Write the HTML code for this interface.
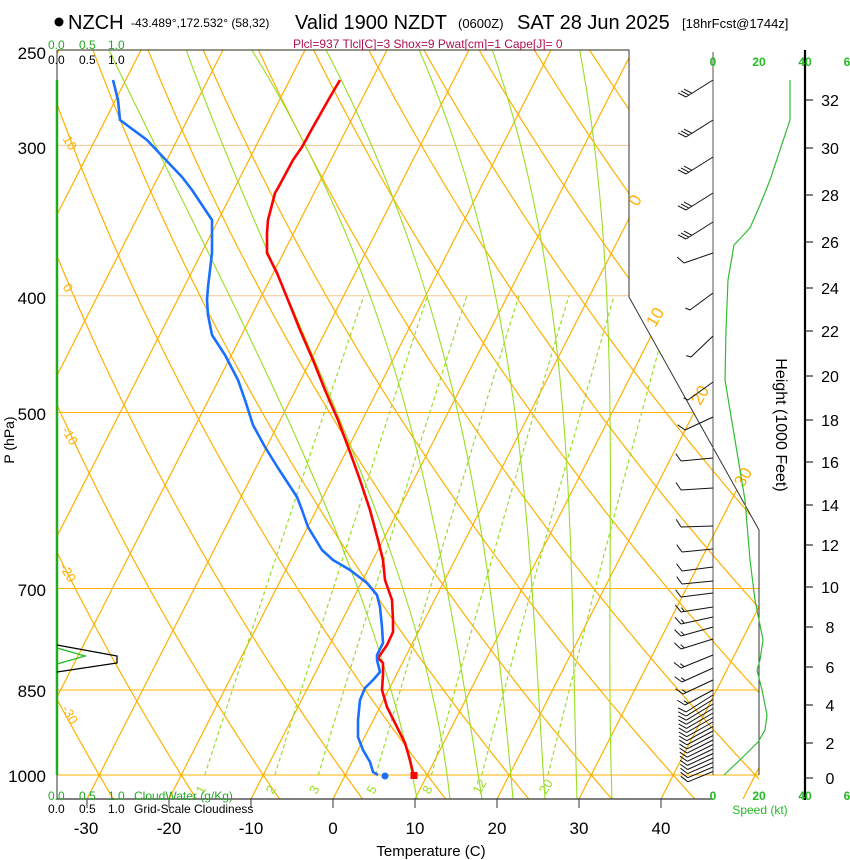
<!DOCTYPE html>
<html><head><meta charset="utf-8"><style>
html,body{margin:0;padding:0;background:#fff;}
svg{display:block;font-family:"Liberation Sans",Arial,sans-serif;}
</style></head><body>
<svg id="s" width="850" height="860" viewBox="0 0 850 860" xmlns="http://www.w3.org/2000/svg">
<defs><clipPath id="cp"><polygon points="57,50 629,50 629,297 759,530 759,799 57,799"/></clipPath></defs>
<rect width="850" height="860" fill="#fff"/>
<g id="grid" clip-path="url(#cp)"></g>
<g id="fg"></g>
<circle cx="59" cy="22" r="4.5" fill="#000"/>
<text x="68" y="29" font-size="20">NZCH</text>
<text x="131" y="27" font-size="12">-43.489°,172.532° (58,32)</text>
<text x="295" y="29" font-size="20">Valid 1900 NZDT</text>
<text x="458" y="28" font-size="13">(0600Z)</text>
<text x="517" y="29" font-size="20">SAT 28 Jun 2025</text>
<text x="682" y="28" font-size="13">[18hrFcst@1744z]</text>
<text x="293" y="48" font-size="12" fill="#b01050">Plcl=937 Tlcl[C]=3 Shox=9 Pwat[cm]=1 Cape[J]= 0</text>
<g font-size="12" fill="#22aa22"><text x="48" y="49">0.0</text><text x="79" y="49">0.5</text><text x="108" y="49">1.0</text>
<text x="48" y="800">0.0</text><text x="79" y="800">0.5</text><text x="108" y="800">1.0</text><text x="134" y="800">CloudWater (g/Kg)</text></g>
<g font-size="12" fill="#000"><text x="48" y="64">0.0</text><text x="79" y="64">0.5</text><text x="108" y="64">1.0</text>
<text x="48" y="813">0.0</text><text x="79" y="813">0.5</text><text x="108" y="813">1.0</text><text x="134" y="813">Grid-Scale Cloudiness</text></g>
<g font-size="17" text-anchor="end"><text x="46" y="59">250</text><text x="46" y="154">300</text><text x="46" y="304">400</text><text x="46" y="420">500</text><text x="46" y="596">700</text><text x="46" y="697">850</text><text x="46" y="782">1000</text></g>
<text transform="translate(14,440) rotate(-90)" font-size="14" text-anchor="middle">P (hPa)</text>
<g font-size="17" text-anchor="middle"><text x="86" y="834">-30</text><text x="169" y="834">-20</text><text x="251" y="834">-10</text><text x="333" y="834">0</text><text x="415" y="834">10</text><text x="497" y="834">20</text><text x="579" y="834">30</text><text x="661" y="834">40</text></g>
<text x="431" y="856" font-size="15" text-anchor="middle">Temperature (C)</text>
<g font-size="12" font-weight="bold" fill="#22bb22" text-anchor="middle"><text x="713" y="66">0</text><text x="759" y="66">20</text><text x="805" y="66">40</text><text x="847" y="66">6</text>
<text x="713" y="800">0</text><text x="759" y="800">20</text><text x="805" y="800">40</text><text x="847" y="800">6</text></g>
<text x="760" y="814" font-size="12" fill="#22bb22" text-anchor="middle">Speed (kt)</text>
<text transform="translate(776,425) rotate(90)" font-size="16" text-anchor="middle">Height (1000 Feet)</text>
<script>
(function(){
var NS="http://www.w3.org/2000/svg";
var grid=document.getElementById('grid'),fg=document.getElementById('fg');
function X(T,y){return 333+8.2*T+0.51*(799-y);}
function Y(p){return 775-523*Math.log(1000/p);}
function el(par,tag,attrs,txt){var e=document.createElementNS(NS,tag);for(var k in attrs)e.setAttribute(k,attrs[k]);if(txt!==undefined)e.textContent=txt;par.appendChild(e);return e;}
function pl(par,pts,attrs){attrs.points=pts.map(function(p){return p[0].toFixed(1)+","+p[1].toFixed(1);}).join(" ");attrs.fill="none";return el(par,'polyline',attrs);}
var OR="#ffb000";
[1000,850,700,500].forEach(function(p){el(grid,'line',{x1:57,x2:760,y1:Y(p),y2:Y(p),stroke:OR,'stroke-width':1});});
[400,300].forEach(function(p){el(grid,'line',{x1:57,x2:760,y1:Y(p),y2:Y(p),stroke:"#f5c890",'stroke-width':1});});
for(var T=-110;T<=60;T+=10){el(grid,'line',{x1:X(T,799),y1:799,x2:X(T,50),y2:50,stroke:OR,'stroke-width':1.2});}
for(var th=-40;th<=200;th+=10){var pts=[];for(var p=1060;p>=245;p-=5){var y=Y(p);var t=(th+273.15)*Math.pow(p/1000,0.2857)-273.15;pts.push([X(t,y),y]);}pl(grid,pts,{stroke:OR,'stroke-width':1.2});}
var GR="#99dd22";
// empirical moist adiabats: x at y=52,413,589,799
var ys=[52,413,589,799];
var M=[[110,285,358,417],[187,337,403,450],[253,407,447,482],[327,458,490,513],[420,515,532,545],[493,563,572,577],[580,610,610,612]];
function lag(xs,y){var s=0;for(var i=0;i<4;i++){var t=xs[i];for(var j=0;j<4;j++)if(j!=i)t*=(y-ys[j])/(ys[i]-ys[j]);s+=t;}return s;}
M.forEach(function(xs){var pts=[];for(var y=50;y<=800;y+=6){pts.push([lag(xs,y),y]);}pl(grid,pts,{stroke:GR,'stroke-width':1.1});});
var ws=[1,2,3,5,8,12,20];
ws.forEach(function(w){var pts=[];for(var p=1000;p>=400;p-=10){var e=w*p/(622+w);var l=Math.log(e/6.112);var td=243.5*l/(17.67-l);var y=Y(p);pts.push([X(td,y),y]);}
  pl(grid,pts,{stroke:GR,'stroke-width':1.2,'stroke-dasharray':'4,3'});
  var x0=pts[0][0];el(fg,'text',{x:0,y:0,'font-size':13,fill:GR,transform:'translate('+(x0-2)+',795) rotate(-60)'},String(w));
});
el(fg,'polyline',{points:"57,50 629,50 629,297 759,530 759,775",fill:"none",stroke:"#333",'stroke-width':1});
el(fg,'line',{x1:57,y1:50,x2:629,y2:50,stroke:"#554",'stroke-width':1.3});
el(fg,'line',{x1:57,y1:799,x2:713,y2:799,stroke:"#333",'stroke-width':1.2});
for(var T=-30;T<=40;T+=10){el(fg,'line',{x1:333+8.2*T,x2:333+8.2*T,y1:799,y2:808,stroke:"#333",'stroke-width':1});}
el(fg,'line',{x1:57,y1:50,x2:57,y2:799,stroke:"#333",'stroke-width':1});
el(fg,'line',{x1:57,y1:80,x2:57,y2:775,stroke:"#22aa22",'stroke-width':2.5});
[[0,640,203],[10,660,320],[20,705,398],[30,748,480]].forEach(function(a){el(fg,'text',{x:0,y:0,'font-size':17,fill:OR,'text-anchor':'middle',transform:'translate('+a[1]+','+a[2]+') rotate(-60)'},String(a[0]));});
[["10",66,145],["0",64,290],["-10",66,438],["-20",64,575],["-30",66,717]].forEach(function(a){el(fg,'text',{x:0,y:0,'font-size':13,fill:OR,'text-anchor':'middle',transform:'translate('+a[1]+','+a[2]+') rotate(60)'},a[0]);});
el(fg,'polyline',{points:"57,645 117,656 117,663 57,672",fill:"none",stroke:"#000",'stroke-width':1.3});
el(fg,'polyline',{points:"57,648 85,656 57,664",fill:"none",stroke:"#22bb22",'stroke-width':1.3});
var tp=[[340,80],[330,97],[313,127],[302,147],[293,160],[278,188],[275,193],[268,220],[267,233],[267,253],[277,273],[288,300],[300,330],[313,360],[325,390],[338,420],[350,452],[360,480],[370,510],[378,540],[383,560],[385,580],[392,600],[393,620],[393,632],[387,645],[378,658],[383,663],[383,675],[382,690],[387,707],[395,723],[405,743],[410,760],[413,773]];
pl(fg,tp,{stroke:"#ff0000",'stroke-width':2.6,'stroke-linejoin':'round'});
el(fg,'rect',{x:410.5,y:772,width:7,height:7,fill:"#ff0000"});
var dp=[[113,80],[118,100],[120,120],[147,140],[163,157],[182,177],[192,190],[212,220],[212,253],[208,287],[207,300],[208,315],[212,335],[225,355],[238,380],[245,400],[253,425],[265,447],[278,468],[297,497],[302,510],[308,527],[322,550],[333,560],[350,570],[367,583],[377,595],[380,607],[382,627],[383,643],[377,655],[377,660],[380,672],[373,680],[365,688],[360,700],[358,720],[358,737],[363,750],[370,762],[373,772],[378,775]];
pl(fg,dp,{stroke:"#1a6fff",'stroke-width':2.6,'stroke-linejoin':'round'});
el(fg,'circle',{cx:385,cy:776,r:3.5,fill:"#1a6fff"});
el(fg,'line',{x1:713,y1:52,x2:713,y2:775,stroke:"#555",'stroke-width':1});
el(fg,'line',{x1:805,y1:50,x2:805,y2:800,stroke:"#000",'stroke-width':2.2});
var hy=[778,743,705,667,627,587,545,505,462,420,376,331,288,242,195,148,100];
hy.forEach(function(y,i){el(fg,'line',{x1:805,x2:813,y1:y,y2:y,stroke:"#000",'stroke-width':1});el(fg,'text',{x:830,y:y+6,'font-size':16,'text-anchor':'middle'},String(i*2));});
pl(fg,[[790,80],[790,120],[780,150],[770,180],[760,205],[750,228],[734,245],[728,280],[726,330],[725,380],[735,440],[745,500],[750,560],[755,600],[759,620],[763,640],[760,660],[757,670],[762,690],[767,715],[765,730],[758,742],[742,758],[724,775]],{stroke:"#33bb33",'stroke-width':1.2});
var B=[[80,686,97,3],[120,686,137,3],[157,686,174,3],[193,686,210,3],[222,686,239,3],[253,684,263,1],[293,690,310,0.5],[336,691,357,0.5],[382,688,400,0.5],[417,685,430,1],[458,681,461,1],[488,681,490,1],[526,681,527,1],[549,682,552,1],[567,682,571,1],[581,682,584,1],[593,681,597,1],[607,681,612,1.5],[617,681,624,1.5],[627,681,636,1.5],[639,681,649,1.5],[655,681,668,1.5],[668,682,682,1.5],[680,683,694,1.5],[690,685,705,1.5]];
for(var y0=695;y0<=775;y0+=4.5){var f=(y0-695)/80;B.push([y0,686+2*f,712+73*f,1]);}
B.forEach(function(b){var x0=713,y0=b[0],x1=b[1],y1=b[2];el(fg,'line',{x1:x0,y1:y0,x2:x1,y2:y1,stroke:"#111",'stroke-width':1});
 var dx=x1-x0,dy=y1-y0,L=Math.sqrt(dx*dx+dy*dy);dx/=L;dy/=L;var c=0.5,s=0.866;var fx=c*dx-s*dy,fy=s*dx+c*dy;
 var n=b[3],pos=0;while(n>0.01){var len=n>=1?9:5;var px=x1-dx*pos,py=y1-dy*pos;el(fg,'line',{x1:px,y1:py,x2:px+fx*len,y2:py+fy*len,stroke:"#111",'stroke-width':1});n-=(n>=1?1:0.5);pos+=3.5;}
});
})();
</script>
</svg>
</body></html>
